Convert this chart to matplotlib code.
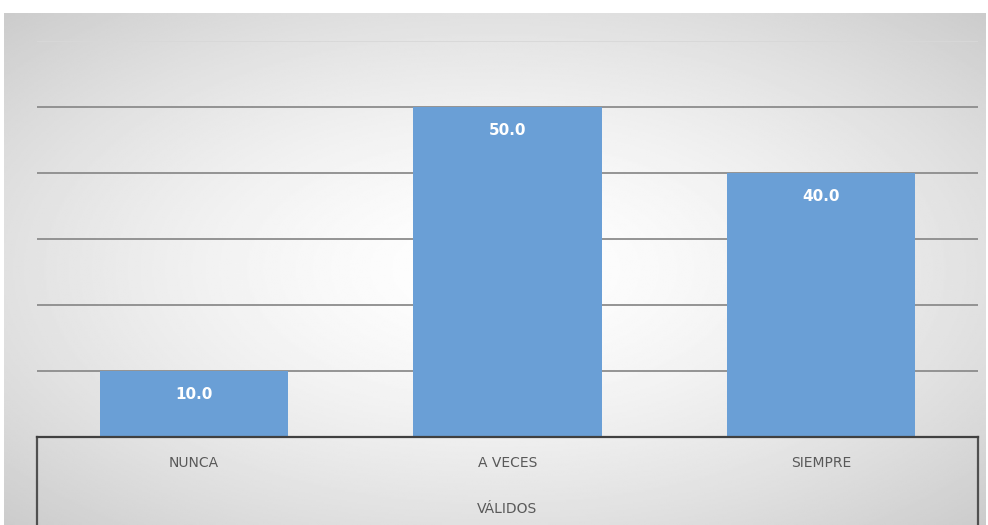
import numpy as np
import matplotlib.pyplot as plt

categorias = ['NUNCA', 'A VECES', 'SIEMPRE']
porcentaje = [10.0, 50.0, 40.0]
grupo = 'VÁLIDOS'

fig = plt.figure(figsize=(9.88, 5.25), dpi=100)
fig.patch.set_facecolor('white')

# radial gradient background of the chart area
bg = fig.add_axes([4 / 988, 0, 981 / 988, 512 / 525])
yy, xx = np.mgrid[-1:1:300j, -1:1:600j]
r = np.sqrt((xx / 1.0) ** 2 + (yy / 1.0) ** 2)
shade = 1.0 - 0.12 * np.clip(r, 0, 1.45) ** 1.5
bg.imshow(shade, cmap='gray', vmin=0, vmax=1, aspect='auto', extent=[0, 1, 0, 1])
bg.axis('off')

ax = fig.add_axes([37 / 988, 88 / 525, 941 / 988, 396 / 525])
ax.patch.set_alpha(0)
x = np.arange(len(categorias))
ax.set_xlim(-0.5, len(categorias) - 0.5)
ax.set_ylim(0, 60)

for v in [10, 20, 30, 40, 50]:
    ax.axhline(v, color='#8c8c8c', lw=1.3, zorder=1)
ax.axhline(60, color='#d8d8d8', lw=1.3, zorder=1)

bars = ax.bar(x, porcentaje, width=0.6, color='#6a9fd6', zorder=2)
for b, v in zip(bars, porcentaje):
    ax.annotate(f'{v:.1f}', (b.get_x() + b.get_width() / 2, v), xytext=(0, -17),
                textcoords='offset points', ha='center', va='center',
                color='white', fontsize=11, fontweight='bold', zorder=3)

for s in ['top', 'right', 'left']:
    ax.spines[s].set_visible(False)
ax.spines['bottom'].set_color('#404040')
ax.spines['bottom'].set_linewidth(1.6)
ax.set_yticks([])
ax.set_xticks(x)
ax.set_xticklabels(categorias, color='#595959', fontsize=10)
ax.tick_params(axis='x', length=0, pad=14)

# category group box lines
ax.plot([-0.5, -0.5], [0, -13.5], color='#505050', lw=1.6, clip_on=False)
ax.plot([2.5, 2.5], [0, -13.5], color='#505050', lw=1.6, clip_on=False)
ax.text(1, -10.9, grupo, ha='center', va='center', color='#595959', fontsize=10)

plt.savefig('out.png', dpi=100)
